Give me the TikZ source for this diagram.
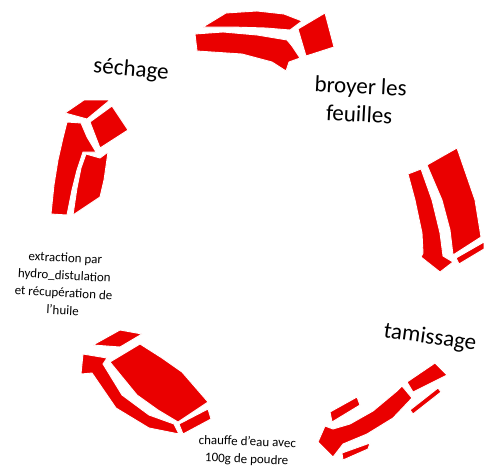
\documentclass[tikz,border=0pt]{standalone}
\usepackage{fontspec}
\setmainfont{Carlito}
\usepackage{tikz}
\usetikzlibrary{positioning}
\definecolor{arrowred}{RGB}{234,0,0}
\tikzset{
  piece/.style={fill=arrowred, draw=white, line width=0.9pt, line join=miter},
  biglabel/.style={font=\fontsize{23}{28}\selectfont, align=center, text=black},
  smalllabel/.style={font=\fontsize{13}{17.5}\selectfont, align=center, text=black, inner sep=1pt}
}
\begin{document}
\begin{tikzpicture}[x=1pt, y=-1pt]
  \useasboundingbox (0,0) rectangle (484,474);

  % top arrow
  \path[piece] (203,27) -- (226,13) -- (257,11) -- (284,14) -- (302,21) -- (290,30) -- (266,28) -- (232,27) -- cycle;
  \path[piece] (195,34) -- (223,32) -- (257,35) -- (287,40) -- (292,46) -- (300,58) -- (289,62) -- (286,71) -- (272,62) -- (242,54) -- (197,51) -- cycle;
  \path[piece] (298,29) -- (325,13) -- (334,47) -- (306,56) -- cycle;

  % right arrow
  \path[piece] (408,174) -- (421,169) -- (432,200) -- (440,233) -- (443,256) -- (453,262) -- (440,272) -- (421,257) -- (423,253) -- (422,233) -- (415,200) -- cycle;
  \path[piece] (427,165) -- (457,148) -- (475,200) -- (481,237) -- (453,255) -- (450,230) -- (442,200) -- cycle;
  \path[piece] (456,258) -- (484,242) -- (484,249) -- (459,264) -- cycle;

  % bottom right arrow
  \path[piece] (407,382) -- (435,363) -- (447,375) -- (413,392) -- cycle;
  \path[piece] (410,410) -- (438,388) -- (441,392) -- (413,414) -- cycle;
  \path[piece] (318,442) -- (325,426) -- (333,429) -- (350,424) -- (373,411) -- (397,391) -- (402,386) -- (412,398) -- (393,418) -- (367,434) -- (343,444) -- (333,457) -- cycle;
  \path[piece] (330,412) -- (357,397) -- (360,405) -- (332,422) -- cycle;
  \path[piece] (342,453) -- (370,443) -- (368,449) -- (343,460) -- cycle;

  % bottom left arrow
  \path[piece] (93,345) -- (120,330) -- (142,334) -- (120,347) -- cycle;
  \path[piece] (110,362) -- (140,344) -- (162,358) -- (182,372) -- (208,402) -- (178,422) -- (158,410) -- (137,395) -- cycle;
  \path[piece] (83,354) -- (107,358) -- (103,364) -- (122,395) -- (149,415) -- (174,424) -- (179,434) -- (149,428) -- (116,408) -- (92,373) -- (81,374) -- cycle;
  \path[piece] (179,424) -- (208,409) -- (211,419) -- (183,434) -- cycle;

  % left arrow
  \path[piece] (65,113) -- (84,100) -- (110,100) -- (87,119) -- cycle;
  \path[piece] (90,122) -- (112,106) -- (128,130) -- (100,148) -- cycle;
  \path[piece] (67,122) -- (81,123) -- (87,137) -- (96,152) -- (83,152) -- (77,170) -- (72,190) -- (67,215) -- (51,214) -- (54,185) -- (58,160) -- (63,138) -- cycle;
  \path[piece] (86,154) -- (100,158) -- (108,152) -- (104,180) -- (100,197) -- (73,215) -- (77,188) -- (81,168) -- cycle;

  \node[biglabel, rotate=-5] (sech) at (131,70) {séchage};
  \node[biglabel, rotate=-3] (broy) at (360,100) {broyer les\\feuilles};
  \node[biglabel, rotate=-8] (tami) at (430,338) {tamissage};
  \node[smalllabel, rotate=-2] (chau) at (247,451) {chauffe d'eau avec\\100g de poudre};
  \node[smalllabel, rotate=-3] (extr) at (64,284) {extraction par\\hydro\_distulation\\et récupération de\\l'huile};
\end{tikzpicture}
\end{document}
